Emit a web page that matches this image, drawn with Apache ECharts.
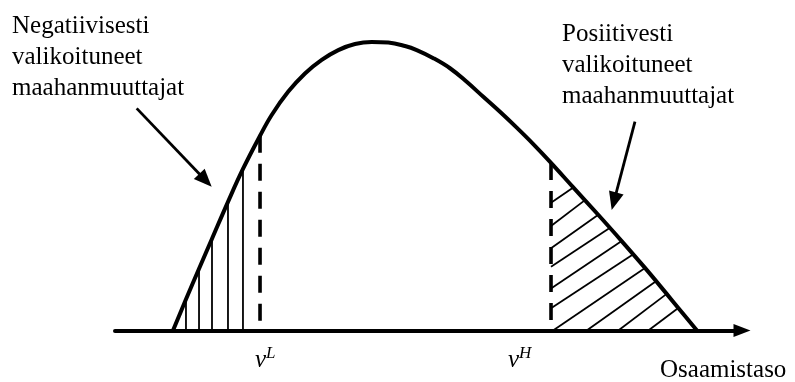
<!DOCTYPE html>
<html><head><meta charset="utf-8">
<script src="https://cdn.jsdelivr.net/npm/echarts@6/dist/echarts.min.js"></script>
<style>html,body{margin:0;padding:0;background:#fff}#c{width:795px;height:382px}</style>
</head><body><div id="c"></div>
<script>
// ---- data (skill level on x, relative density on y) ----
const curveX = [9.25, 11.32, 13.40, 15.47, 18.02, 20.41, 23.13, 24.99, 27.64, 30.30, 32.97, 35.61, 38.28, 40.94, 43.59, 46.25, 48.12, 50.77, 53.43, 56.09, 58.74, 61.40, 64.07, 66.71, 69.54, 73.05, 77.03, 80.81, 84.53, 87.99, 89.84, 92.82];
const curveY = [0, 0.108, 0.214, 0.318, 0.446, 0.560, 0.675, 0.747, 0.828, 0.891, 0.938, 0.972, 0.993, 1.0, 0.998, 0.986, 0.972, 0.944, 0.909, 0.862, 0.810, 0.758, 0.703, 0.646, 0.581, 0.497, 0.402, 0.310, 0.217, 0.127, 0.078, 0];

const thresholdX = [23.13, 69.54];
const thresholdTop = [0.675, 0.581];
const thresholdSup = ['L', 'H'];
const thresholdLabelX = [23.92, 64.27];

const leftHatchX = [11.32, 13.40, 15.47, 18.02, 20.41];
const leftHatchTop = [0.108, 0.214, 0.318, 0.446, 0.560];

const rightHatchX1 = [69.54, 69.54, 69.54, 69.54, 69.54, 69.54, 69.86, 75.23, 80.27, 85.06];
const rightHatchY1 = [0.443, 0.362, 0.285, 0.221, 0.146, 0.077, 0.0, 0, 0, 0];
const rightHatchX2 = [73.09, 74.96, 77.08, 78.95, 80.81, 82.66, 84.53, 86.28, 87.99, 89.84];
const rightHatchY2 = [0.496, 0.452, 0.401, 0.356, 0.310, 0.264, 0.217, 0.171, 0.127, 0.078];

const noteLeft = ['Negatiivisesti', 'valikoituneet', 'maahanmuuttajat'];
const noteRight = ['Posiitivesti', 'valikoituneet', 'maahanmuuttajat'];
const noteArrowFromX = [3.46, 82.93];
const noteArrowFromY = [0.770, 0.724];
const noteArrowToX = [15.42, 79.22];
const noteArrowToY = [0.498, 0.418];
const axisTitle = 'Osaamistaso';

// ---- build ----
const FONT = '"Liberation Serif", "Times New Roman", serif';
const curveData = curveX.map((x, i) => [x, curveY[i]]);
const leftHatch = leftHatchX.map((x, i) => [x, 0, x, leftHatchTop[i]]);
const rightHatch = rightHatchX1.map((x, i) => [x, rightHatchY1[i], rightHatchX2[i], rightHatchY2[i]]);
const dashData = thresholdX.map((x, i) => [x, thresholdTop[i], x, 0]);
const arrowData = noteArrowFromX.map((x, i) => [x, noteArrowFromY[i], noteArrowToX[i], noteArrowToY[i]]);
const labelData = thresholdLabelX.map((x, i) => [x, 0, i]);

function segRender(width, dash) {
  return function (params, api) {
    const p1 = api.coord([api.value(0), api.value(1)]);
    const p2 = api.coord([api.value(2), api.value(3)]);
    return { type: 'line', shape: { x1: p1[0], y1: p1[1], x2: p2[0], y2: p2[1] },
      style: { stroke: '#000', lineWidth: width, lineDash: dash || null, fill: null } };
  };
}

const chart = echarts.init(document.getElementById('c'), null, { renderer: 'canvas' });
chart.setOption({
  backgroundColor: '#fff',
  animation: false,
  grid: { left: 115, right: 53, top: 42, bottom: 51.5 },
  xAxis: {
    type: 'value', min: 0, max: 100,
    axisLine: { show: true, onZero: false, symbol: ['none', 'triangle'], symbolSize: [13, 17],
      lineStyle: { color: '#000', width: 4 } },
    axisTick: { show: false }, axisLabel: { show: false }, splitLine: { show: false }
  },
  yAxis: { type: 'value', min: 0, max: 1, show: false },
  series: [
    { type: 'custom', coordinateSystem: 'cartesian2d', data: leftHatch, encode: { x: [0, 2], y: [1, 3] },
      renderItem: segRender(1.8), clip: false, z: 2 },
    { type: 'custom', coordinateSystem: 'cartesian2d', data: rightHatch, encode: { x: [0, 2], y: [1, 3] },
      renderItem: segRender(1.8), clip: false, z: 2 },
    { type: 'custom', coordinateSystem: 'cartesian2d', data: dashData, encode: { x: [0, 2], y: [1, 3] },
      renderItem: segRender(3.6, [17, 11]), clip: false, z: 3 },
    { type: 'line', data: curveData, smooth: 0.4, showSymbol: false, symbol: 'none', clip: false,
      lineStyle: { color: '#000', width: 4, join: 'round', cap: 'round' }, z: 4 },
    { type: 'custom', coordinateSystem: 'cartesian2d', data: arrowData, encode: { x: [0, 2], y: [1, 3] }, clip: false, z: 5,
      renderItem: function (params, api) {
        const p1 = api.coord([api.value(0), api.value(1)]);
        const p2 = api.coord([api.value(2), api.value(3)]);
        const dx = p2[0] - p1[0], dy = p2[1] - p1[1];
        const len = Math.sqrt(dx * dx + dy * dy);
        const ux = dx / len, uy = dy / len, nx = -uy, ny = ux;
        const L = 18, W = 7.5;
        const bx = p2[0] - ux * L, by = p2[1] - uy * L;
        return { type: 'group', children: [
          { type: 'line', shape: { x1: p1[0], y1: p1[1], x2: bx + ux * 2, y2: by + uy * 2 },
            style: { stroke: '#000', lineWidth: 2.8 } },
          { type: 'polygon', shape: { points: [[p2[0], p2[1]], [bx + nx * W, by + ny * W], [bx - nx * W, by - ny * W]] },
            style: { fill: '#000' } }
        ] };
      } },
    { type: 'custom', coordinateSystem: 'cartesian2d', data: labelData, encode: { x: 0, y: 1 }, clip: false, z: 5,
      renderItem: function (params, api) {
        const p = api.coord([api.value(0), api.value(1)]);
        const sup = thresholdSup[api.value(2)];
        return { type: 'group', children: [
          { type: 'text', x: p[0] + 1, y: p[1] + 30, style: { text: 'v', fill: '#000',
            font: 'italic 25px ' + FONT, align: 'right', verticalAlign: 'middle' } },
          { type: 'text', x: p[0] + 1, y: p[1] + 23, style: { text: sup, fill: '#000',
            font: 'italic 17px ' + FONT, align: 'left', verticalAlign: 'middle' } }
        ] };
      } }
  ],
  graphic: [
    { type: 'text', x: 12, y: 11, style: { text: noteLeft.join('\n'), fill: '#000', font: '25px ' + FONT,
      lineHeight: 31, align: 'left', verticalAlign: 'top' } },
    { type: 'text', x: 562, y: 19, style: { text: noteRight.join('\n'), fill: '#000', font: '25px ' + FONT,
      lineHeight: 31, align: 'left', verticalAlign: 'top' } },
    { type: 'text', x: 660, y: 355, style: { text: axisTitle, fill: '#000', font: '25px ' + FONT,
      lineHeight: 31, align: 'left', verticalAlign: 'top' } }
  ]
});
</script></body></html>
